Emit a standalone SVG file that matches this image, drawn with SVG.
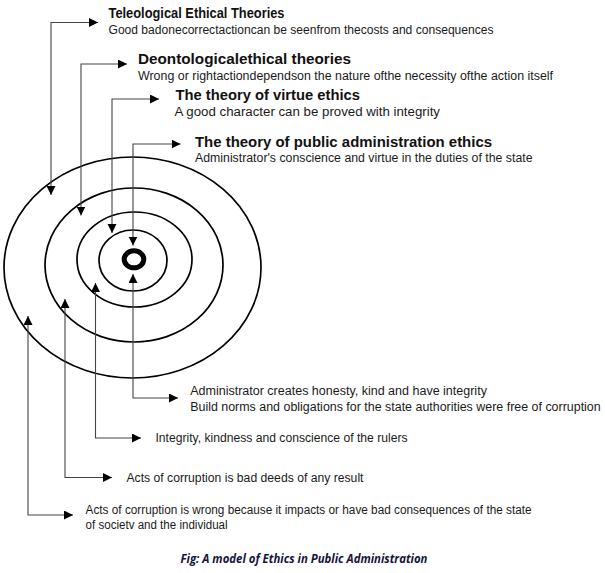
<svg xmlns="http://www.w3.org/2000/svg" width="605" height="573" viewBox="0 0 605 573">
<style>
text{font-family:"Liberation Sans",Arial,sans-serif;fill:#111}
.t{font-weight:bold;font-size:15px}
.s{font-size:12.5px;fill:#1a1a1a}
.cap{font-family:"Open Sans","Liberation Sans",sans-serif;font-weight:bold;font-style:italic;font-size:13px;fill:#15153a}
.ring{fill:none;stroke:#000;stroke-width:1.7}
.c{fill:none;stroke:#444;stroke-width:1.1;marker-start:url(#as);marker-end:url(#ae)}
</style>
<defs>
<marker id="ae" markerUnits="userSpaceOnUse" markerWidth="10" markerHeight="10" refX="9" refY="4.5" orient="auto"><path d="M0,0 L9,4.5 L0,9 z" fill="#000"/></marker>
<marker id="as" markerUnits="userSpaceOnUse" markerWidth="10" markerHeight="10" refX="9" refY="4.5" orient="auto-start-reverse"><path d="M0,0 L9,4.5 L0,9 z" fill="#000"/></marker>
</defs>
<rect width="605" height="573" fill="#fff"/>
<g id="rings">
<ellipse id="ring-outer" class="ring" cx="132.5" cy="267.5" rx="128.5" ry="110.5"/>
<ellipse id="ring-2" class="ring" cx="134" cy="265" rx="89" ry="77"/>
<ellipse id="ring-3" class="ring" cx="134.5" cy="259.5" rx="57.5" ry="47.5"/>
<ellipse id="ring-4" class="ring" cx="133" cy="260.5" rx="34" ry="30.5"/>
<ellipse id="core" cx="134" cy="259.3" rx="9.8" ry="8.5" fill="none" stroke="#000" stroke-width="5"/>
</g>
<g id="connectors">
<path class="c" d="M51,195 V22.5 H98"/>
<path class="c" d="M81,215.5 V64 H127"/>
<path class="c" d="M112,233 V99 H159"/>
<path class="c" d="M133,245.5 V144 H180.5"/>
<path class="c" d="M133,274 V398 H178"/>
<path class="c" d="M95.5,283 V438 H141"/>
<path class="c" d="M65,299 V477.5 H112"/>
<path class="c" d="M28,316 V515 H73"/>
</g>
<g id="teleological">
<text class="t" x="108.5" y="17.5" textLength="176" lengthAdjust="spacingAndGlyphs">Teleological Ethical Theories</text>
<text class="s" x="108.5" y="33.5" font-size="12" textLength="385" lengthAdjust="spacingAndGlyphs">Good badonecorrectactioncan be seenfrom thecosts and consequences</text>
</g>
<g id="deontological">
<text class="t" x="138" y="63.5" font-size="16" textLength="213" lengthAdjust="spacingAndGlyphs">Deontologicalethical theories</text>
<text class="s" x="138" y="80" textLength="415" lengthAdjust="spacingAndGlyphs">Wrong or rightactiondependson the nature ofthe necessity ofthe action itself</text>
</g>
<g id="virtue">
<text class="t" x="175.5" y="100" textLength="184.5" lengthAdjust="spacingAndGlyphs">The theory of virtue ethics</text>
<text class="s" x="174.5" y="116" font-size="13" textLength="265.5" lengthAdjust="spacingAndGlyphs">A good character can be proved with integrity</text>
</g>
<g id="public-admin">
<text class="t" x="195" y="147.3" font-size="16" textLength="297" lengthAdjust="spacingAndGlyphs">The theory of public administration ethics</text>
<text class="s" x="195" y="162.3" textLength="337.5" lengthAdjust="spacingAndGlyphs">Administrator's conscience and virtue in the duties of the state</text>
</g>
<g id="administrator">
<text class="s" x="190.2" y="395" textLength="296.7" lengthAdjust="spacingAndGlyphs">Administrator creates honesty, kind and  have integrity</text>
<text class="s" x="190.2" y="410.5" textLength="410.5" lengthAdjust="spacingAndGlyphs">Build norms and obligations for the state authorities were free of corruption</text>
</g>
<g id="integrity">
<text class="s" x="155.5" y="442.3" textLength="252" lengthAdjust="spacingAndGlyphs">Integrity, kindness and conscience of the rulers</text>
</g>
<g id="bad-deeds">
<text class="s" x="126.5" y="481.5" textLength="237" lengthAdjust="spacingAndGlyphs">Acts of corruption is bad deeds of any result</text>
</g>
<g id="wrong">
<text class="s" x="85.6" y="514.3" textLength="446" lengthAdjust="spacingAndGlyphs">Acts of corruption is wrong because it impacts or have bad consequences of the state</text>
<text class="s" x="85.6" y="528.5" textLength="142" lengthAdjust="spacingAndGlyphs">of societv and the individual</text>
</g>
<g id="caption">
<text class="cap" x="180.5" y="563" textLength="247" lengthAdjust="spacingAndGlyphs">Fig: A model of Ethics in Public Administration</text>
</g>
</svg>
